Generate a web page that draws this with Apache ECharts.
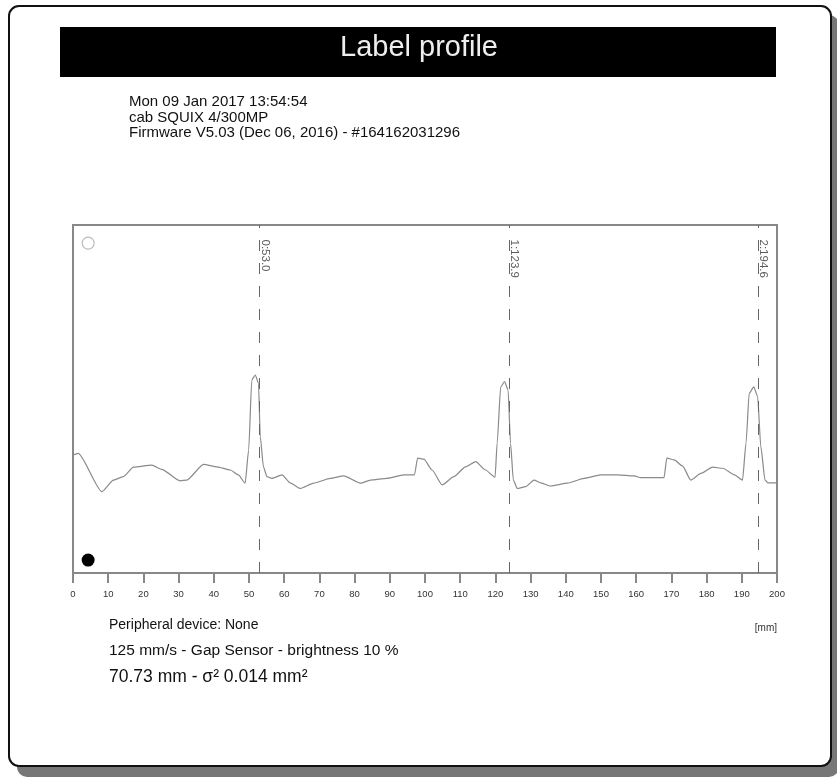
<!DOCTYPE html>
<html>
<head>
<meta charset="utf-8">
<script src="https://cdn.jsdelivr.net/npm/echarts@6/dist/echarts.min.js"></script>
<style>
html,body{margin:0;padding:0;background:#fff;}
#c{width:837px;height:781px;}
</style>
</head>
<body>
<div id="c"></div>
<script>
// ---- data ----
var titleText = 'Label profile';
var headerLines = ['Mon 09 Jan 2017 13:54:54', 'cab SQUIX 4/300MP', 'Firmware V5.03 (Dec 06, 2016) - #164162031296'];
var footerLines = ['Peripheral device: None', '125 mm/s - Gap Sensor - brightness 10 %', '70.73 mm - \u03c3\u00b2 0.014 mm\u00b2'];
var unitLabel = '[mm]';
var xMin = 0, xMax = 200, xStep = 10;
var profileX = [0,1.5,8.2,11.5,14.3,17.2,22.4,25.2,30.4,32.3,37.1,40.9,44.7,47.0,48.9,49.9,50.8,51.8,52.7,53.2,54.1,55.1,56.5,59.4,61.7,64.6,68.4,73.1,76.9,81.7,84.5,89.2,94.0,97.0,97.9,99.7,102.0,104.9,108.2,111.5,114.4,117.2,119.9,120.5,121.5,122.6,123.6,124.3,125.1,126.2,128.6,131.0,132.9,135.7,140.5,145.2,149.9,154.7,159.4,161.3,167.9,168.7,170.8,173.2,175.5,178.4,181.7,184.6,187.9,190.2,191.2,192.1,193.4,194.5,195.4,196.6,197.4,200];
var profileY = [33.9,34.4,23.4,26.7,27.7,30.4,31.0,29.8,26.5,26.7,31.2,30.5,29.6,28.2,25.8,35.3,55.5,56.9,54.5,39.2,30.5,27.7,27.2,28.2,25.9,24.3,25.8,27.2,27.9,25.8,26.7,27.2,28.2,28.2,33.0,32.7,29.6,25.3,27.7,30.5,32.0,29.6,27.5,37.3,53.5,55.0,52.6,37.3,26.7,24.3,24.8,26.7,25.9,25.0,25.8,27.2,28.2,28.2,27.9,27.4,27.4,33.0,32.5,30.7,26.7,28.6,30.4,30.1,28.2,26.7,37.3,51.6,53.5,50.7,36.3,26.7,25.9,25.9];
var markerPos = [53.0, 123.9, 194.6];
var markerLabels = ['0:53.0', '1:123.9', '2:194.6'];
var indicatorOpen = [4.3, 94.8];
var indicatorFilled = [4.3, 3.7];

// ---- build ----
var lineData = profileX.map(function (x, i) { return [x, profileY[i]]; });
var markerLabelData = markerPos.map(function (x, i) { return { value: [x, 100], name: markerLabels[i] }; });

var FONT = '"Liberation Sans", Arial, sans-serif';
var chart = echarts.init(document.getElementById('c'), null, { renderer: 'canvas' });

var graphics = [
  { type: 'rect', z: -20, shape: { x: 17, y: 15, width: 822, height: 762, r: 10 }, style: { fill: '#777' } },
  { type: 'rect', z: -10, shape: { x: 9, y: 6, width: 822, height: 760, r: 10 },
    style: { fill: '#fff', stroke: '#111', lineWidth: 2 } },
  { type: 'rect', z: -5, shape: { x: 60, y: 27, width: 716, height: 50 }, style: { fill: '#000' } },
  { type: 'text', z: 10, style: { text: titleText, x: 419, y: 48, align: 'center', verticalAlign: 'middle', fill: '#eeeeee', font: '29px ' + FONT } }
];
headerLines.forEach(function (t, i) {
  graphics.push({ type: 'text', style: { text: t, x: 129, y: 102 + i * 15.5, verticalAlign: 'middle', fill: '#111', font: '15px ' + FONT } });
});
var footerSizes = [14, 15.5, 17.5];
footerLines.forEach(function (t, i) {
  graphics.push({ type: 'text', style: { text: t, x: 109, y: 625 + i * 26, verticalAlign: 'middle', fill: '#111', font: footerSizes[i] + 'px ' + FONT } });
});
graphics.push({ type: 'text', style: { text: unitLabel, x: 777, y: 628, align: 'right', verticalAlign: 'middle', fill: '#333', font: '10px ' + FONT } });

chart.setOption({
  animation: false,
  backgroundColor: 'transparent',
  graphic: graphics,
  grid: { left: 73, right: 60, top: 225, bottom: 208, show: true, borderColor: '#888', borderWidth: 2, backgroundColor: 'transparent' },
  xAxis: {
    type: 'value', min: xMin, max: xMax, interval: xStep,
    axisLine: { show: true, lineStyle: { color: '#888', width: 2 } },
    axisTick: { show: true, length: 10, lineStyle: { color: '#888', width: 2 } },
    axisLabel: { show: true, color: '#333', fontSize: 9.5, fontFamily: FONT, margin: 16 },
    splitLine: { show: false }
  },
  yAxis: {
    type: 'value', min: 0, max: 100,
    axisLine: { show: false }, axisTick: { show: false }, axisLabel: { show: false }, splitLine: { show: false }
  },
  series: [
    {
      type: 'line', name: 'profile', data: lineData, symbol: 'none', smooth: 0.2, smoothMonotone: 'x',
      lineStyle: { color: '#8a8a8a', width: 1.2 },
      markLine: {
        silent: true, symbol: 'none', label: { show: false },
        lineStyle: { color: '#666', width: 1, type: [11, 12] },
        data: markerPos.map(function (x) { return { xAxis: x }; })
      }
    },
    {
      type: 'scatter', name: 'markerLabels', data: markerLabelData, symbol: 'circle', symbolSize: 1,
      itemStyle: { color: 'rgba(0,0,0,0)' },
      label: { show: true, formatter: '{b}', position: [6, 15], rotate: -90, align: 'left', verticalAlign: 'middle', color: '#333', fontSize: 11.5, fontFamily: FONT }
    },
    {
      type: 'scatter', name: 'open', data: [indicatorOpen], symbol: 'circle', symbolSize: 12,
      itemStyle: { color: '#fff', borderColor: '#aaa', borderWidth: 1.2 }
    },
    {
      type: 'scatter', name: 'filled', data: [indicatorFilled], symbol: 'circle', symbolSize: 13,
      itemStyle: { color: '#000', opacity: 1 }
    }
  ]
});
</script>
</body>
</html>
